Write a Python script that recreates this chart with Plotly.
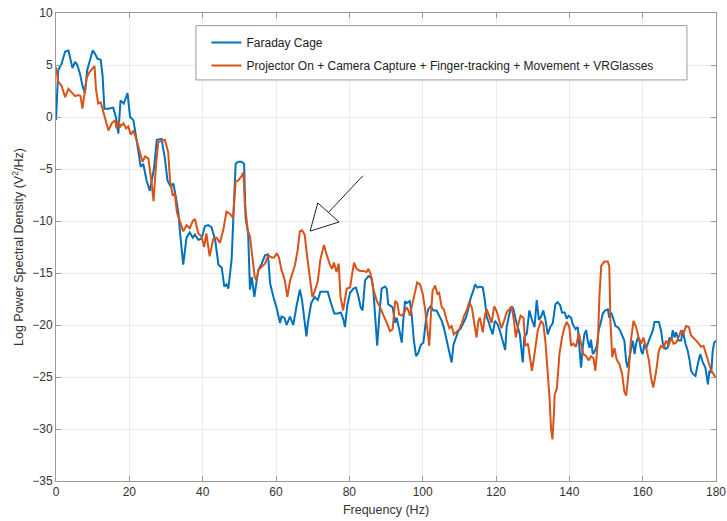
import plotly.graph_objects as go

# Power spectral density estimates (log scale), read at irregular frequencies
faraday_freq = [
    0, 0.6, 1.5, 2.5, 3.4, 4.0, 4.5, 5.2, 5.8, 6.5, 7.3, 7.9, 8.5, 9.3, 10.0, 10.6, 11.3, 12.2, 12.7, 13.2,
    14.3, 15.6, 16.4, 17.0, 17.6, 18.5, 19.5, 20.2, 21.1, 21.8, 22.5, 23.1, 23.8, 24.7, 25.6, 26.7, 27.5,
    28.8, 29.7, 30.4, 31.3, 32.0, 32.7, 33.4, 33.8, 34.7, 35.6, 36.5, 37.3, 37.9, 38.8, 39.7, 40.6, 41.5,
    42.4, 43.4, 44.3, 45.2, 45.9, 46.5, 47.0, 47.9, 48.6, 49.0, 49.7, 50.6, 51.3, 51.7, 52.4, 52.9, 53.4,
    54.1, 54.7, 55.2, 56.1, 57.0, 57.8, 58.4, 59.3, 60.2, 61.1, 61.5, 62.3, 62.9, 63.8, 64.7, 65.6, 66.5,
    67.1, 67.8, 68.3, 68.7, 69.6, 70.5, 71.4, 72.1, 73.2, 74.1, 75.0, 75.9, 76.8, 77.7, 78.4, 78.8, 79.5,
    80.2, 81.1, 81.8, 82.5, 83.1, 83.6, 84.3, 85.2, 86.1, 86.5, 87.0, 87.6, 88.2, 88.8, 89.7, 90.2, 90.6,
    91.3, 91.8, 92.5, 92.9, 93.6, 94.3, 94.7, 95.2, 95.6, 96.5, 97.0, 97.6, 98.2, 98.8, 99.5, 100.2, 100.9,
    101.5, 102.2, 102.9, 103.8, 104.5, 105.2, 105.8, 106.5, 107.3, 107.9, 108.4, 109.1, 109.7, 110.4,
    111.1, 111.8, 112.4, 113.1, 113.8, 114.3, 114.9, 115.6, 116.4, 117.0, 117.5, 117.9, 118.5, 119.1,
    119.7, 120.4, 121.1, 121.8, 122.5, 122.9, 123.6, 124.3, 124.7, 125.4, 126.1, 126.5, 127.3, 127.7,
    128.4, 128.7, 129.1, 129.8, 130.5, 131.1, 131.7, 132.3, 132.9, 133.5, 134.1, 134.8, 135.5, 136.2,
    136.8, 137.5, 138.0, 138.7, 139.3, 139.8, 140.5, 140.9, 141.7, 142.3, 142.8, 143.2, 143.7, 144.1,
    144.6, 145.0, 145.5, 145.9, 146.4, 146.8, 147.5, 148.0, 148.7, 149.1, 149.8, 150.5, 150.9, 151.4,
    152.0, 152.6, 153.2, 153.8, 154.4, 155.0, 155.5, 155.9, 156.4, 156.8, 157.3, 157.8, 158.2, 158.7,
    159.1, 159.6, 160.0, 160.5, 160.9, 161.7, 162.3, 162.8, 163.2, 163.7, 164.4, 165.0, 165.5, 166.2,
    166.8, 167.3, 167.8, 168.2, 168.7, 169.1, 169.8, 170.5, 170.9, 171.7, 172.3, 172.8, 173.2, 173.7,
    174.4, 175.0, 175.7, 176.4, 177.1, 177.8, 178.2, 178.7, 179.1, 179.5, 180.0,
]
faraday_psd = [
    -0.3, 4.5, 5.1, 6.3, 6.4, 5.5, 4.7, 5.3, 5.0, 4.2, 2.9, 2.3, 4.5, 5.5, 6.4, 6.1, 5.6, 5.5, 4.0, 0.8,
    0.8, 0.9, -0.1, -1.6, 1.6, 1.3, 2.3, 0.0, -0.3, -1.8, -3.2, -4.8, -4.5, -6.1, -7.1, -5.0, -2.2,
    -2.1, -4.0, -6.1, -6.7, -6.4, -7.7, -9.3, -11.0, -14.2, -11.6, -11.1, -11.6, -11.3, -11.8, -11.7, -10.5, -10.4,
    -10.6, -11.8, -14.2, -14.5, -16.3, -16.1, -16.5, -13.7, -7.7, -4.5, -4.3, -4.3, -4.5, -9.7, -11.2, -16.6, -15.4,
    -17.3, -15.8, -14.7, -14.1, -13.3, -13.2, -16.0, -17.3, -18.4, -19.8, -19.2, -19.3, -20.0, -19.2, -20.0, -18.2, -16.6,
    -17.6, -19.5, -21.1, -19.8, -17.9, -17.3, -17.6, -16.8, -16.8, -16.8, -17.9, -18.9, -18.9, -18.8, -19.5, -20.2, -18.0,
    -16.9, -16.5, -16.4, -17.3, -18.3, -18.6, -15.7, -15.3, -15.5, -16.4, -19.0, -22.0, -19.0, -16.5, -16.3, -16.5, -18.0,
    -18.2, -18.3, -19.8, -19.3, -20.4, -21.7, -19.6, -17.7, -17.9, -17.7, -19.0, -21.5, -23.0, -22.7, -21.9, -21.7, -19.5,
    -18.5, -18.2, -18.6, -18.6, -19.1, -19.6, -20.3, -21.4, -22.8, -23.6, -21.9, -21.2, -20.6, -20.3,
    -19.8, -19.3, -18.5, -17.4, -16.7, -16.1, -16.4, -16.3, -16.4, -17.7, -19.3, -19.6, -20.3, -20.9,
    -19.6, -19.9, -20.6, -21.4, -22.4, -20.2, -19.0, -18.2, -18.4, -19.5, -20.6, -20.9, -23.6, -21.2,
    -20.8, -19.9, -18.6, -19.5, -20.2, -17.6, -19.5, -19.2, -18.6, -19.5, -20.9, -20.2, -19.8, -18.0,
    -17.8, -18.1, -18.8, -18.8, -19.4, -19.1, -19.3, -19.9, -20.4, -20.2, -22.2, -24.1, -22.0, -20.9,
    -20.5, -21.5, -22.2, -21.4, -22.8, -22.6, -22.0, -20.5, -19.6, -18.9, -18.6, -18.5, -19.3, -18.8,
    -19.4, -20.1, -20.2, -20.5, -21.0, -21.5, -23.5, -24.1, -23.1, -22.2, -21.5, -22.8, -21.8, -21.2,
    -21.5, -22.5, -22.8, -21.8, -22.3, -21.5, -20.9, -20.5, -19.7, -19.7, -19.7, -20.5, -21.8, -22.3,
    -22.2, -21.2, -21.5, -20.5, -21.2, -20.7, -21.5, -21.5, -20.5, -21.8, -22.5, -23.4, -24.4, -24.7,
    -24.9, -23.8, -22.8, -23.6, -24.1, -25.7, -24.4, -24.6, -22.5, -21.7, -21.5,
]

combined_freq = [
    0, 0.6, 1.5, 2.5, 3.4, 4.3, 5.2, 6.1, 6.7, 7.2, 7.6, 8.4, 9.1, 10.0, 10.5, 10.9, 11.5, 12.2, 12.9, 13.6,
    14.3, 15.2, 16.1, 16.5, 17.0, 17.6, 18.4, 19.1, 19.7, 20.4, 21.1, 21.8, 22.5, 23.0, 23.6, 24.3, 25.2,
    26.1, 26.6, 27.3, 27.9, 28.8, 29.7, 30.6, 31.1, 31.8, 32.4, 33.0, 33.8, 34.7, 35.6, 36.5, 37.3, 37.9,
    38.8, 39.7, 40.4, 41.0, 41.9, 42.9, 43.8, 44.7, 45.6, 46.5, 47.4, 48.3, 49.0, 49.7, 50.6, 51.1, 51.5,
    52.3, 52.9, 53.5, 54.2, 54.7, 55.2, 56.1, 57.0, 57.9, 58.8, 59.5, 60.2, 60.8, 61.5, 62.4, 63.1, 63.8,
    64.4, 65.2, 65.9, 66.5, 67.1, 67.8, 68.5, 69.2, 69.9, 70.5, 71.4, 72.1, 73.1, 73.7, 74.6, 75.3, 75.8,
    76.5, 77.1, 77.6, 78.3, 79.3, 80.2, 80.9, 81.3, 82.0, 82.9, 83.8, 84.7, 85.2, 85.8, 86.5, 87.5, 88.4,
    89.3, 90.2, 91.1, 91.8, 92.5, 93.1, 93.6, 94.3, 95.0, 95.6, 96.1, 96.5, 97.3, 97.9, 98.5, 99.3, 100.0,
    100.6, 101.3, 101.8, 102.2, 102.7, 103.4, 104.0, 104.5, 105.2, 105.8, 106.5, 107.3, 107.9, 108.5,
    109.3, 110.0, 110.6, 111.3, 112.0, 112.7, 113.4, 113.8, 114.3, 114.7, 115.2, 115.6, 116.4, 117.0,
    117.5, 118.2, 118.8, 119.5, 120.2, 120.9, 121.5, 122.2, 122.9, 123.6, 124.3, 124.9, 125.4, 126.1,
    126.7, 127.5, 128.0, 128.7, 129.3, 129.8, 130.5, 131.4, 132.3, 132.9, 133.5, 134.1, 134.6, 135.0,
    135.4, 135.8, 136.0, 136.6, 137.3, 138.0, 138.7, 139.3, 140.0, 140.5, 141.1, 141.8, 142.6, 143.2,
    143.8, 144.6, 145.3, 145.9, 146.6, 147.1, 147.8, 148.2, 148.7, 149.6, 150.5, 150.9, 151.2, 151.7,
    152.3, 152.9, 153.7, 154.4, 155.0, 155.5, 156.2, 156.8, 157.5, 158.2, 158.9, 159.6, 160.2, 160.9,
    161.7, 162.3, 162.9, 163.7, 164.4, 165.0, 165.7, 166.4, 167.1, 167.8, 168.4, 169.1, 169.8, 170.5,
    171.1, 171.8, 172.6, 173.2, 173.8, 174.6, 175.3, 175.9, 176.6, 177.3, 178.0, 178.7, 179.3, 180.0,
]
combined_psd = [
    4.8, 3.4, 3.0, 1.9, 2.7, 2.3, 2.0, 2.1, 2.0, 0.8, 2.0, 3.8, 4.3, 4.7, 4.9, 2.7, 1.3, 1.4, 0.5, -0.3,
    -1.3, -0.6, -0.3, -1.1, -0.4, -0.9, -0.6, -1.1, -0.9, -1.7, -1.3, -2.0, -2.9, -3.7, -4.3, -3.8, -4.0,
    -6.4, -8.1, -4.5, -2.4, -2.3, -2.2, -3.4, -6.1, -7.5, -7.4, -9.2, -10.0, -11.0, -10.4, -10.7, -10.0, -9.8,
    -11.2, -11.5, -12.5, -11.2, -13.4, -11.7, -11.6, -12.1, -10.9, -9.1, -9.3, -9.7, -6.2, -6.1, -5.7, -5.3, -8.3,
    -10.9, -11.5, -13.1, -15.4, -15.7, -14.7, -14.4, -14.1, -13.3, -13.5, -13.5, -13.1, -13.5, -14.7, -15.7, -17.3, -15.8,
    -15.2, -14.2, -12.8, -11.0, -10.9, -11.3, -13.4, -15.4, -17.3, -16.8, -15.8, -13.7, -12.3, -13.1, -14.1, -14.6, -14.0,
    -14.9, -14.1, -17.3, -18.6, -16.5, -16.4, -14.8, -14.0, -14.6, -14.8, -14.8, -14.9, -14.6, -15.1, -16.5, -17.7, -18.3,
    -19.0, -19.8, -20.6, -20.4, -17.7, -17.9, -19.0, -19.1, -18.8, -18.3, -18.6, -19.1, -17.8, -16.9, -15.9, -16.1, -17.0,
    -18.3, -20.3, -22.0, -19.3, -16.7, -16.2, -17.0, -16.9, -18.3, -18.5, -19.5, -20.3, -20.1, -20.9,
    -20.6, -20.4, -19.9, -19.1, -18.6, -17.8, -18.3, -19.3, -20.6, -21.2, -19.6, -19.3, -20.7, -19.0,
    -18.5, -19.3, -19.8, -18.2, -18.7, -19.6, -20.3, -19.6, -18.8, -18.5, -18.2, -19.6, -21.2, -19.9,
    -19.1, -19.3, -22.0, -21.8, -23.5, -24.4, -22.8, -20.5, -19.6, -19.9, -21.7, -24.4, -27.0, -29.9,
    -31.0, -28.5, -26.7, -26.1, -22.8, -21.2, -20.2, -19.7, -20.2, -22.0, -21.8, -22.1, -20.8, -21.8,
    -22.8, -23.0, -23.4, -23.0, -23.2, -24.4, -21.5, -17.3, -14.3, -13.9, -13.9, -14.4, -19.6, -23.1,
    -22.2, -23.3, -23.8, -24.7, -26.4, -26.8, -24.4, -21.5, -19.6, -20.2, -21.2, -21.8, -21.2, -22.1,
    -23.4, -25.1, -26.0, -24.4, -22.5, -22.0, -22.2, -21.5, -22.0, -21.2, -21.8, -21.7, -21.2, -20.5,
    -20.9, -20.1, -20.2, -21.0, -21.2, -21.5, -21.8, -22.1, -22.0, -22.8, -23.8, -24.4, -24.7, -25.1,
]

series_names = [
    "Faraday Cage",
    "Projector On + Camera Capture + Finger-tracking + Movement + VRGlasses",
]
series_colors = ["#0072BD", "#D95319"]

x_ticks = list(range(0, 181, 20))
y_ticks = list(range(-35, 11, 5))

# Callout arrow pointing at the 67 Hz peak: tail, tip and the two base corners of the open head
arrow_tail = (83.7, -5.65)
arrow_tip = (69.3, -10.97)
head_base_a = (71.4, -8.26)
head_base_b = (77.2, -10.1)

font_family = "Liberation Sans, Arial, Helvetica, sans-serif"
text_color = "#333333"
frame_color = "#9a9a9a"

fig = go.Figure()
for i, (fx, fy) in enumerate([(faraday_freq, faraday_psd), (combined_freq, combined_psd)]):
    fig.add_trace(go.Scatter(
        x=fx, y=fy, mode="lines", name=series_names[i], legendgroup="g%d" % i,
        line=dict(color=series_colors[i], width=2),
    ))

# Arrow shaft, ending at the middle of the head's base
base_mid = ((head_base_a[0] + head_base_b[0]) / 2, (head_base_a[1] + head_base_b[1]) / 2)
fig.add_shape(type="line", xref="x", yref="y",
              x0=arrow_tail[0], y0=arrow_tail[1], x1=base_mid[0], y1=base_mid[1],
              line=dict(color="#222222", width=1))
# Open triangular arrow head
head_path = "M {} {} L {} {} L {} {} Z".format(
    arrow_tip[0], arrow_tip[1], head_base_a[0], head_base_a[1], head_base_b[0], head_base_b[1])
fig.add_shape(type="path", xref="x", yref="y", path=head_path,
              fillcolor="rgba(255,255,255,0)", line=dict(color="#222222", width=1))

# Legend frame (drawn separately so it can be wider than the entries)
fig.add_shape(type="rect", xref="paper", yref="paper",
              x0=0.212, x1=0.956, y0=0.857, y1=0.973,
              fillcolor="white", line=dict(color=frame_color, width=1), layer="above")

axis_common = dict(
    showgrid=True, gridcolor="#ebebeb", gridwidth=1,
    showline=True, linecolor=frame_color, linewidth=1, mirror="ticks",
    ticks="inside", ticklen=5, tickcolor=frame_color,
    zeroline=False, automargin=False,
    tickfont=dict(family=font_family, size=12, color=text_color),
)

fig.update_xaxes(
    range=[0, 180], tickvals=x_ticks,
    title=dict(text="Frequency (Hz)", font=dict(family=font_family, size=12.5, color=text_color), standoff=6),
    **axis_common,
)
fig.update_yaxes(
    range=[-35, 10], tickvals=y_ticks,
    title=dict(text="Log Power Spectral Density (V<sup>2</sup>/Hz)",
               font=dict(family=font_family, size=12.5, color=text_color), standoff=5),
    **axis_common,
)

fig.update_layout(
    width=727, height=521,
    margin=dict(l=56, r=11, t=13, b=40),
    paper_bgcolor="white", plot_bgcolor="white",
    showlegend=True,
    legend=dict(
        x=0.228, y=0.968, xanchor="left", yanchor="top",
        bgcolor="rgba(0,0,0,0)", borderwidth=0,
        font=dict(family=font_family, size=12, color="#222222"),
        itemwidth=30, tracegroupgap=4,
    ),
)

fig.write_html("out.html")
